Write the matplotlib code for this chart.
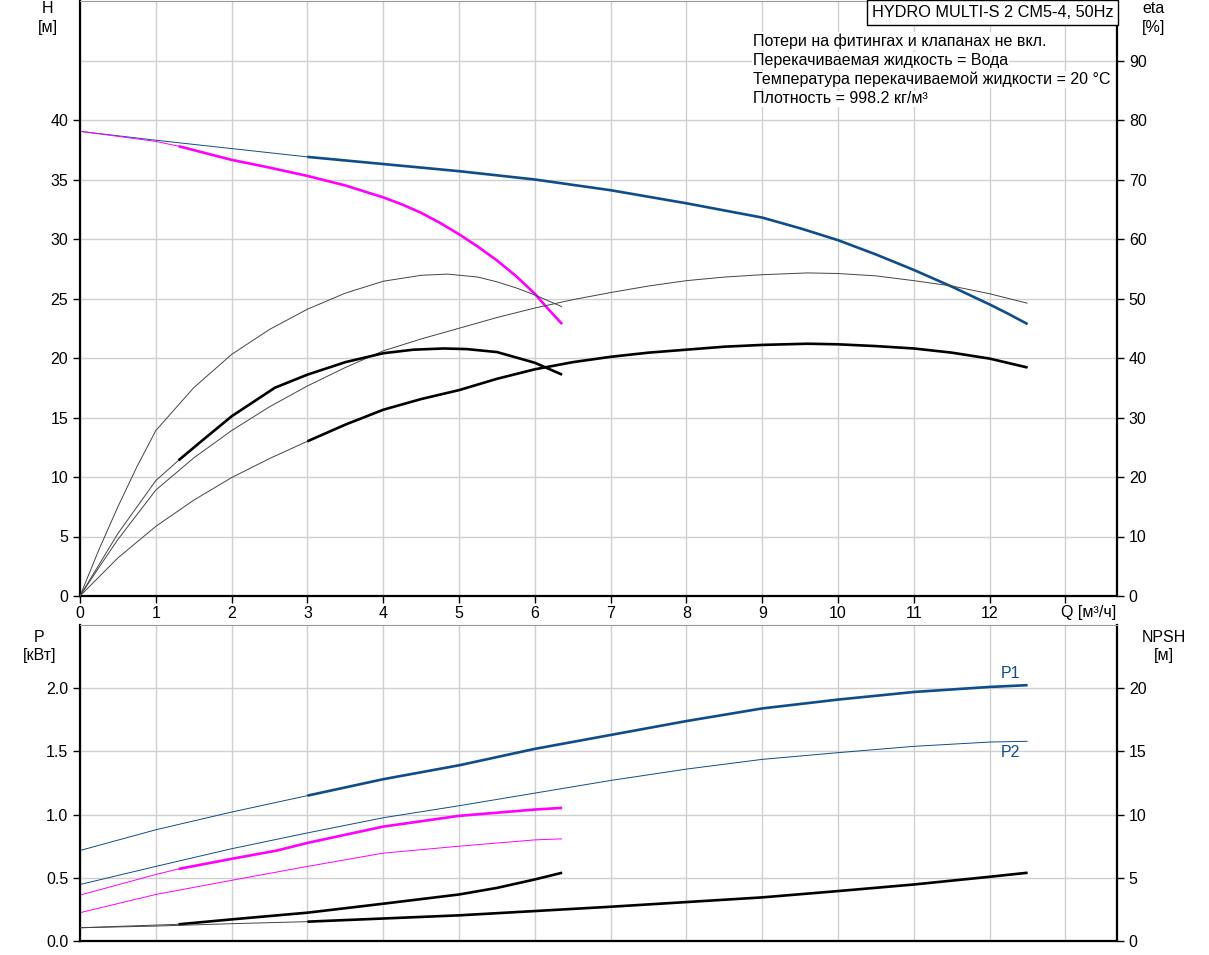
import matplotlib
matplotlib.use("Agg")
from matplotlib import pyplot as plt

plt.rcParams['font.family'] = ['Liberation Sans', 'DejaVu Sans']
plt.rcParams['font.size'] = 11.5

# H curves [m]
q_h_big = [0, 1, 2, 3, 4, 5, 6, 7, 8, 9, 9.5, 10, 10.5, 11, 11.5, 12, 12.25, 12.5]
h_big = [39.05, 38.3, 37.6, 36.9, 36.3, 35.7, 35.0, 34.1, 33.0, 31.8, 30.9, 29.9, 28.7, 27.4, 26.0, 24.5, 23.7, 22.85]
q_h_small = [0, 1, 1.3, 2, 2.5, 3, 3.5, 4, 4.25, 4.5, 4.75, 5, 5.25, 5.5, 5.75, 6, 6.15, 6.36]
h_small = [39.05, 38.2, 37.8, 36.65, 36.0, 35.3, 34.5, 33.5, 32.9, 32.2, 31.35, 30.4, 29.35, 28.2, 26.9, 25.4, 24.3, 22.85]

# eta curves [%]
q_eta_a = [0, 0.25, 0.5, 0.75, 1, 1.5, 2, 2.5, 3, 3.5, 4, 4.5, 4.85, 5.25, 5.5, 5.75, 6, 6.36]
eta_a = [0, 7.8, 15, 21.7, 27.8, 35.0, 40.6, 44.8, 48.2, 50.9, 52.9, 53.9, 54.1, 53.6, 52.8, 51.8, 50.6, 48.6]
q_eta_b = [0, 0.25, 0.5, 1, 1.5, 2, 2.5, 3, 3.5, 4, 4.5, 5, 5.5, 6, 6.5, 7, 7.5, 8, 8.5, 9, 9.6, 10, 10.5, 11, 11.5, 12, 12.5]
eta_b = [0, 4.8, 9.5, 17.8, 23.2, 27.8, 31.8, 35.3, 38.4, 41.2, 43.2, 45.0, 46.8, 48.4, 49.8, 51.0, 52.1, 53.0,
         53.6, 54.0, 54.3, 54.2, 53.8, 53.0, 52.1, 50.8, 49.2]
q_eta_c = [0, 0.5, 1, 1.5, 2, 2.5, 3, 3.5, 4, 4.5, 5, 5.5, 6, 6.5, 7, 7.5, 8, 8.5, 9, 9.6, 10, 10.5, 11, 11.5, 12, 12.5]
eta_c = [0, 6.4, 11.7, 16.1, 19.9, 23.1, 26.0, 28.8, 31.3, 33.1, 34.6, 36.5, 38.1, 39.3, 40.2, 40.9, 41.4,
         41.9, 42.2, 42.4, 42.3, 42.0, 41.6, 40.9, 39.9, 38.4]
q_eta_d = [0, 0.5, 1, 1.3, 1.6, 2, 2.57, 3, 3.5, 4, 4.4, 4.8, 5.1, 5.5, 6, 6.36]
eta_d = [0, 10.5, 19.4, 22.8, 26.0, 30.2, 35.0, 37.2, 39.3, 40.8, 41.4, 41.6, 41.5, 41.0, 39.2, 37.2]

# power curves [kW]
q_p_big = [0, 1, 2, 3, 4, 5, 6, 7, 8, 9, 10, 11, 12, 12.5]
p1_big = [0.716, 0.88, 1.02, 1.15, 1.28, 1.39, 1.52, 1.63, 1.74, 1.84, 1.91, 1.97, 2.01, 2.024]
p2_big = [0.447, 0.59, 0.73, 0.855, 0.975, 1.07, 1.17, 1.27, 1.36, 1.437, 1.49, 1.54, 1.574, 1.58]
q_p1_small = [0, 1, 1.3, 2, 2.6, 3, 4, 5, 6, 6.36]
p1_small = [0.363, 0.526, 0.57, 0.65, 0.716, 0.776, 0.905, 0.99, 1.04, 1.053]
q_p2_small = [0, 1, 2, 3, 4, 5, 6, 6.36]
p2_small = [0.224, 0.368, 0.48, 0.59, 0.695, 0.75, 0.80, 0.808]

# NPSH [m]
q_npsh_small = [0, 1, 1.3, 2, 3, 4, 5, 5.5, 6, 6.36]
npsh_small = [1.05, 1.26, 1.32, 1.71, 2.24, 2.95, 3.68, 4.2, 4.87, 5.4]
q_npsh_big = [0, 1, 2, 3, 4, 5, 6, 7, 8, 9, 10, 11, 12, 12.5]
npsh_big = [1.05, 1.18, 1.37, 1.53, 1.78, 2.03, 2.37, 2.71, 3.08, 3.45, 3.95, 4.47, 5.08, 5.4]

notes = ["Потери на фитингах и клапанах не вкл.",
         "Перекачиваемая жидкость = Вода",
         "Температура перекачиваемой жидкости = 20 °C",
         "Плотность = 998.2 кг/м³"]

BLUE = '#0f4c8a'
MAG = '#ff00ff'
THIN = 0.7
THICK = 1.9


def curve(ax, q, v, color, start=None, thin_color=None):
    ax.plot(q, v, color=thin_color or color, lw=THIN, solid_capstyle='butt')
    if start is not None:
        qq = [a for a in q if a >= start]
        vv = [b for a, b in zip(q, v) if a >= start]
        ax.plot(qq, vv, color=color, lw=THICK, solid_capstyle='butt')


def style(ax):
    ax.set_xlim(0, 13.68)
    ax.grid(True, which='both', color='#d0d0d0', lw=1)
    ax.set_axisbelow(True)
    for s in ['left', 'right', 'bottom']:
        ax.spines[s].set_linewidth(1.6)
        ax.spines[s].set_color('black')
    ax.spines['top'].set_color('#999999')
    ax.tick_params(direction='out', length=5, width=1)


fig = plt.figure(figsize=(12.09, 9.55), dpi=100)
ax1 = fig.add_axes([80 / 1209, 1 - 596 / 955, 1037 / 1209, 595 / 955])
ax2 = fig.add_axes([80 / 1209, 1 - 941 / 955, 1037 / 1209, 316 / 955])

# top: H and eta
style(ax1)
ax1.set_ylim(0, 50)
ax1.set_yticks(range(0, 45, 5))
ax1.set_yticks([45], minor=True)
ax1.tick_params(axis='y', which='minor', length=0)
ax1.set_xticks(range(0, 14))
ax1.set_xticklabels([str(v) for v in range(0, 13)] + [''])
ax1.tick_params(axis='x', pad=2)
ax1.text(12.94, -0.75, "Q [м³/ч]", ha='left', va='top')
ax1e = ax1.twinx()
ax1e.set_ylim(0, 100)
ax1e.set_yticks(range(0, 100, 10))
ax1e.tick_params(direction='out', length=5, width=1)
for s in ax1e.spines.values():
    s.set_visible(False)

curve(ax1e, q_eta_a, eta_a, '#444444')
curve(ax1e, q_eta_b, eta_b, '#444444')
curve(ax1e, q_eta_c, eta_c, 'black', start=3, thin_color='#444444')
curve(ax1e, q_eta_d, eta_d, 'black', start=1.3, thin_color='#444444')
curve(ax1, q_h_big, h_big, BLUE, start=3)
curve(ax1, q_h_small, h_small, MAG, start=1.3)

ax1.text(-0.031, 1.0, "H\n[м]", transform=ax1.transAxes, ha='center', va='top', linespacing=1.3)
ax1.text(1.035, 1.0, "eta\n[%]", transform=ax1.transAxes, ha='center', va='top', linespacing=1.3)
ax1.text(0.9965, 0.993, "HYDRO MULTI-S 2 CM5-4, 50Hz", transform=ax1.transAxes, ha='right', va='top',
         fontsize=11.7, zorder=6, clip_on=False,
         bbox=dict(boxstyle='square,pad=0.3', fc='white', ec='black', lw=1))
for i, line in enumerate(notes):
    ax1.text(673 / 1037, 1 - (40 + 19.3 * i) / 595, line, transform=ax1.transAxes,
             ha='left', va='center', fontsize=11.5, zorder=5,
             bbox=dict(boxstyle='square,pad=0.05', fc='white', ec='none'))

# bottom: P and NPSH
style(ax2)
ax2.set_ylim(0, 2.5)
ax2.set_yticks([0, 0.5, 1.0, 1.5, 2.0])
ax2.set_yticklabels(['0.0', '0.5', '1.0', '1.5', '2.0'])
ax2.set_xticks(range(0, 14))
ax2.tick_params(axis='x', length=0, labelbottom=False)
ax2n = ax2.twinx()
ax2n.set_ylim(0, 25)
ax2n.set_yticks([0, 5, 10, 15, 20])
ax2n.tick_params(direction='out', length=5, width=1)
for s in ax2n.spines.values():
    s.set_visible(False)

curve(ax2, q_p_big, p1_big, BLUE, start=3)
curve(ax2, q_p_big, p2_big, BLUE)
curve(ax2, q_p1_small, p1_small, MAG, start=1.3)
curve(ax2, q_p2_small, p2_small, MAG)
curve(ax2n, q_npsh_small, npsh_small, 'black', start=1.3, thin_color='#444444')
curve(ax2n, q_npsh_big, npsh_big, 'black', start=3, thin_color='#444444')

ax2.text(q_p_big[-1] - 0.1, p1_big[-1] + 0.03, "P1", color=BLUE, ha='right', va='bottom')
ax2.text(q_p_big[-1] - 0.1, p2_big[-1] - 0.03, "P2", color=BLUE, ha='right', va='top')
ax2.text(-0.039, 0.985, "P\n[кВт]", transform=ax2.transAxes, ha='center', va='top', linespacing=1.3)
ax2.text(1.045, 0.985, "NPSH\n[м]", transform=ax2.transAxes, ha='center', va='top', linespacing=1.3)

fig.savefig("out.png", dpi=100)
